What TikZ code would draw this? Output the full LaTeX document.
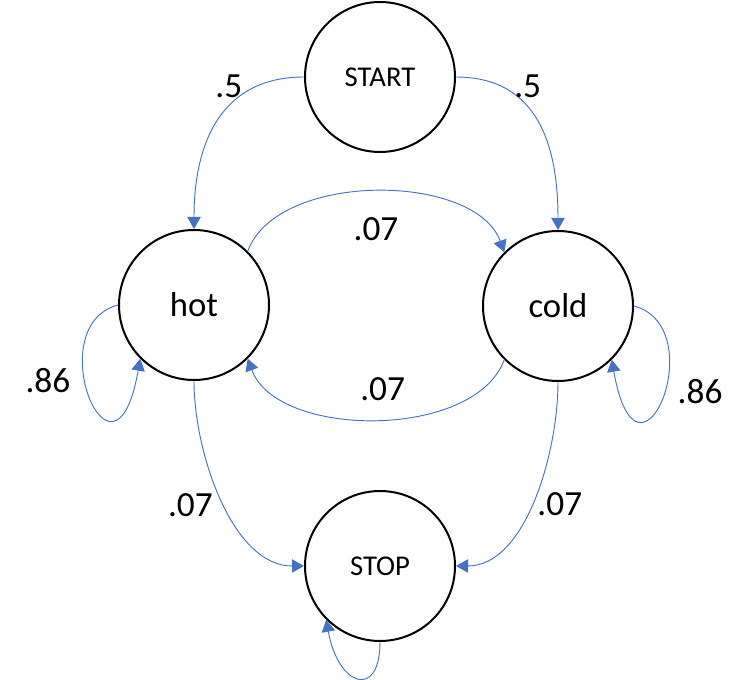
\documentclass[tikz,border=0pt]{standalone}
\usepackage{fontspec}
\setmainfont{Carlito}
\usetikzlibrary{arrows.meta,positioning}
\definecolor{edgeblue}{HTML}{4472C4}

\begin{document}
\begin{tikzpicture}[x=0.75pt,y=0.75pt,>={Triangle[length=9pt,width=10pt,color=edgeblue]},auto,
		state node/.style={circle,draw,line width=1.5pt,minimum size=112.5pt,inner sep=0pt,font=\fontsize{26}{30}\selectfont},
		end node/.style={state node,font=\fontsize{21.5}{25}\selectfont}]
		
		\useasboundingbox (0,0) rectangle (746,679);
		
		\node[end node] (start) at (380,602) {START};
		\node[state node] (hot) at (194,374) {hot};
		\node[state node] (cold) at (558,373) {cold};
		\node[end node] (stop) at (380,113) {STOP};
		
		\path[every edge/.append style={->,draw=edgeblue,line width=0.7pt},every node/.style={font=\fontsize{26.5}{30}\selectfont}]
		(start.west) edge[out=180,in=90,looseness=1.15] node[pos=0.4,above=3pt] {.5} (hot.north)
		(start.east) edge[out=0,in=90,looseness=1.15] node[pos=0.4,above=3pt] {.5} (cold.north)
		(hot.45) edge[out=70,in=110,looseness=0.85] node[midway,below=16pt] {.07} (cold.135)
		(cold.-135) edge[out=-110,in=-70,looseness=0.85] node[midway,above=10pt,xshift=5pt] {.07} (hot.-45)
		(hot.west) edge[out=195,in=-100,out distance=62pt,in distance=114pt] node[pos=0.42,left=7pt] {.86} (hot.-135)
		(cold.east) edge[out=-15,in=-80,out distance=62pt,in distance=114pt] node[pos=0.47,right=6pt] {.86} (cold.-45)
		(hot.south) edge[out=-90,in=180,looseness=0.85] node[pos=0.52,left=5pt] {.07} (stop.west)
		(cold.south) edge[out=-90,in=0,looseness=0.85] node[pos=0.52,right=1pt] {.07} (stop.east)
		(stop.south) edge[out=-90,in=-80,out distance=43.5pt,in distance=51pt] (stop.-135);
\end{tikzpicture}
\end{document}
